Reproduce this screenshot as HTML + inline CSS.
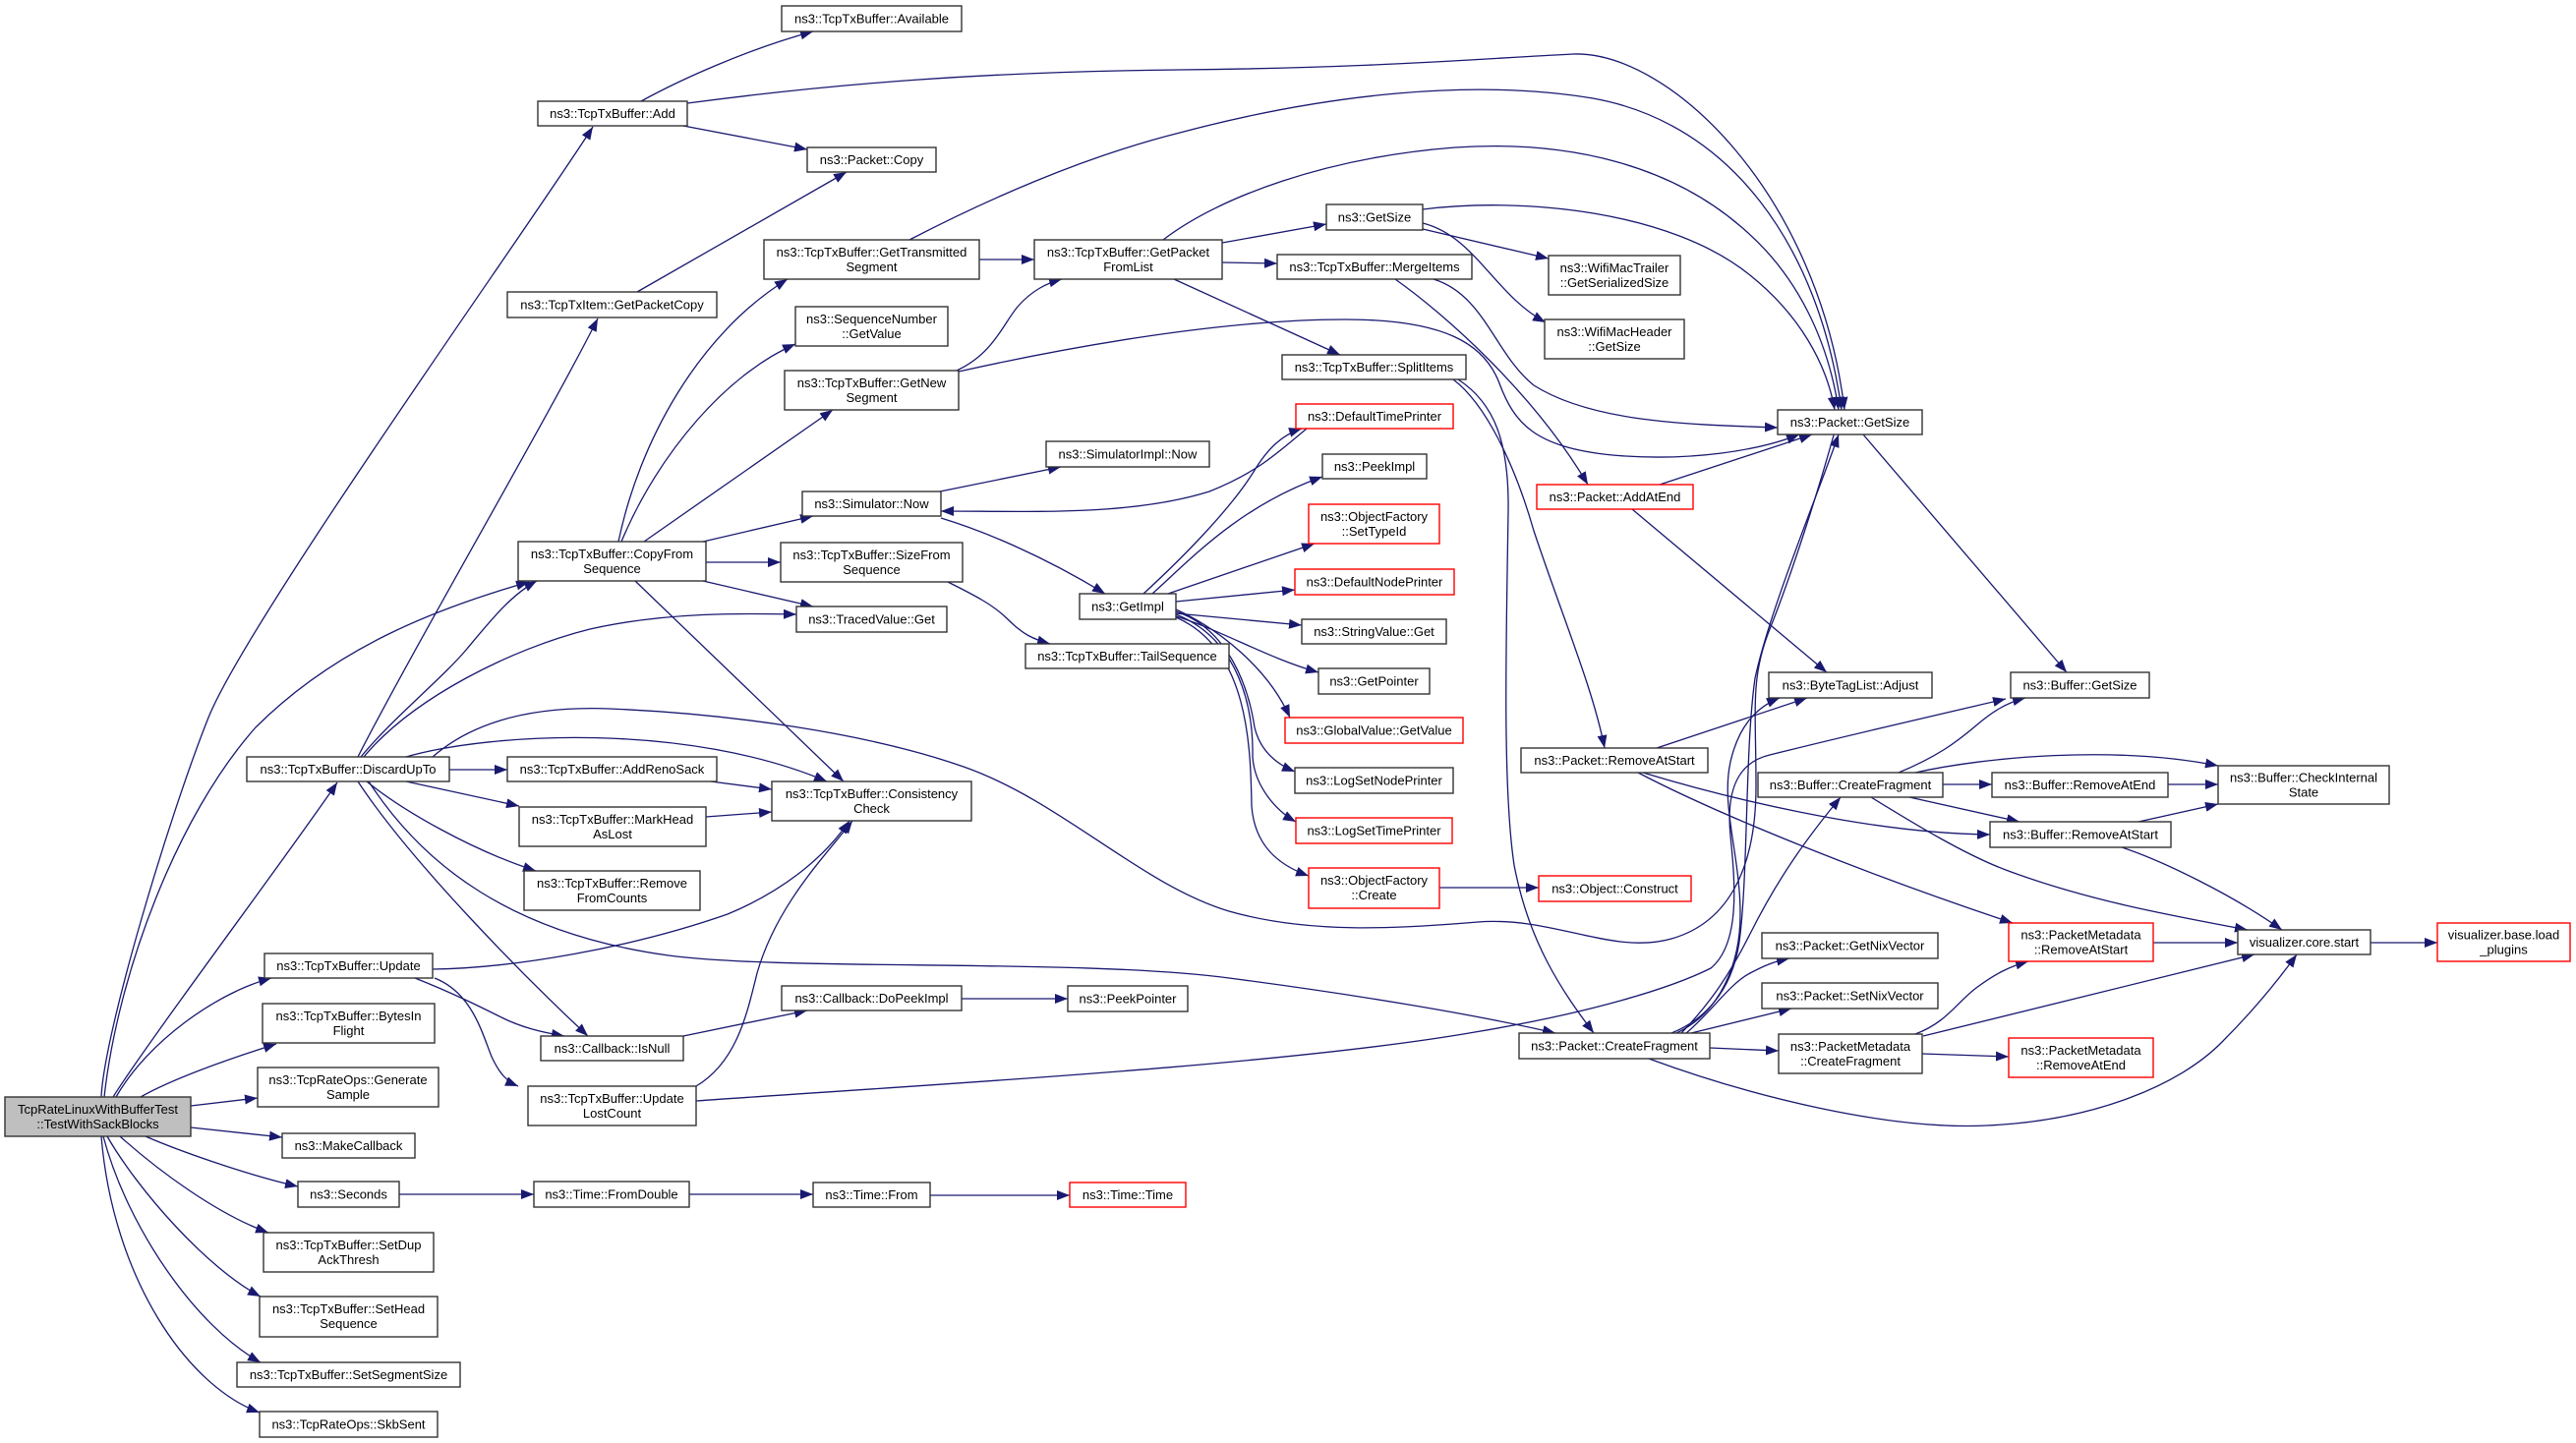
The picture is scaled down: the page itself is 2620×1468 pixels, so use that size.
<!DOCTYPE html>
<html><head><meta charset="utf-8"><style>
html,body{margin:0;padding:0;background:#fff;}
svg{display:block;}
text{font-family:"Liberation Sans",Arial,sans-serif;font-size:13px;text-anchor:middle;fill:#000;}
.n{fill:#fff;stroke:#333;stroke-width:1.4;}
.r{fill:#fff;stroke:#ff0000;stroke-width:1.4;}
.e{fill:none;stroke:#191970;stroke-width:1.3;marker-end:url(#a);}
</style></head><body>
<svg width="2620" height="1468" viewBox="0 0 2620 1468" xmlns="http://www.w3.org/2000/svg">
<defs><marker id="a" markerUnits="userSpaceOnUse" markerWidth="14" markerHeight="11" refX="13" refY="5" orient="auto"><path d="M0,0 L13,5 L0,10 z" fill="#191970"/></marker></defs>
<rect width="2620" height="1468" fill="#fff"/>
<g>
<path class="e" d="M103,1116 C106,1050 172,830 212,730 C252,630 543,224 603,129"/>
<path class="e" d="M106,1116 C120,990 180,830 260,740 C340,660 440,620 538,592"/>
<path class="e" d="M364,770 C420,660 560,420 608,324"/>
<path class="e" d="M115,1116 C150,1060 300,860 343,796"/>
<path class="e" d="M118,1116 C150,1060 220,1010 276,995"/>
<path class="e" d="M143,1116 C180,1095 240,1075 281,1062"/>
<path class="e" d="M194,1125 L262,1117"/>
<path class="e" d="M194,1147 L287,1157"/>
<path class="e" d="M148,1156 C180,1170 250,1195 303,1207"/>
<path class="e" d="M122,1156 C160,1190 220,1235 273,1254"/>
<path class="e" d="M109,1156 C140,1210 210,1290 265,1319"/>
<path class="e" d="M105,1156 C130,1250 200,1350 265,1386"/>
<path class="e" d="M103,1156 C115,1300 190,1410 264,1437"/>
<path class="e" d="M457,783 L516,783"/>
<path class="e" d="M413,795 L528,820"/>
<path class="e" d="M373,795 C410,825 480,865 545,886"/>
<path class="e" d="M364,795 C420,880 540,1000 598,1054"/>
<path class="e" d="M375,795 C430,880 520,950 680,972 C800,988 1100,975 1250,995 C1380,1012 1500,1032 1582,1051"/>
<path class="e" d="M413,770 C500,745 700,735 841,795"/>
<path class="e" d="M440,770 C480,735 540,718 620,721 C740,726 880,745 980,780 C1080,815 1160,900 1250,927 C1330,950 1420,945 1503,938 C1580,932 1640,972 1700,955 C1760,938 1786,880 1786,800 C1786,720 1780,690 1800,640 C1820,590 1850,500 1872,417"/>
<path class="e" d="M367,770 C400,730 450,690 475,660 C500,630 520,605 546,591"/>
<path class="e" d="M370,770 C420,710 520,660 600,640 C680,622 760,624 810,625"/>
<path class="e" d="M629,551 C650,450 710,340 801,284"/>
<path class="e" d="M632,551 C670,460 740,380 809,350"/>
<path class="e" d="M655,551 L847,417"/>
<path class="e" d="M715,551 L827,525"/>
<path class="e" d="M718,572 L794,572"/>
<path class="e" d="M715,591 L827,617"/>
<path class="e" d="M646,591 L858,795"/>
<path class="e" d="M652,103 C690,82 760,50 827,32"/>
<path class="e" d="M695,128 L821,152"/>
<path class="e" d="M699,105 C850,85 1000,73 1200,71 C1400,69 1500,60 1600,55 C1700,52 1850,200 1876,417"/>
<path class="e" d="M648,297 L861,175"/>
<path class="e" d="M996,264 L1052,264"/>
<path class="e" d="M925,244 C1000,205 1100,160 1200,135 C1350,95 1500,80 1620,100 C1760,125 1850,250 1873,417"/>
<path class="e" d="M1243,247 L1349,228"/>
<path class="e" d="M1243,267 L1299,268"/>
<path class="e" d="M1194,284 L1363,361"/>
<path class="e" d="M1183,244 C1240,200 1350,160 1480,150 C1600,142 1700,170 1770,230 C1830,280 1860,350 1870,417"/>
<path class="e" d="M1447,233 L1575,263"/>
<path class="e" d="M1447,227 C1500,240 1520,300 1572,328"/>
<path class="e" d="M1447,213 C1550,200 1700,215 1780,280 C1830,320 1858,370 1866,417"/>
<path class="e" d="M1419,284 C1470,320 1560,400 1615,493"/>
<path class="e" d="M1458,284 C1510,300 1520,360 1560,392 C1620,430 1720,432 1808,435"/>
<path class="e" d="M973,377 C1010,360 1020,330 1035,312 C1050,295 1065,288 1080,284"/>
<path class="e" d="M975,378 C1100,350 1250,325 1368,325 C1470,325 1510,350 1525,390 C1540,430 1560,455 1640,463 C1720,470 1790,458 1830,442"/>
<path class="e" d="M1478,386 C1510,410 1540,470 1560,540 C1590,630 1620,700 1632,761"/>
<path class="e" d="M1483,386 C1520,410 1535,450 1534,520 C1532,650 1528,800 1540,880 C1555,960 1590,1010 1621,1051"/>
<path class="e" d="M1163,604 C1200,570 1250,520 1275,480 C1290,455 1305,442 1324,436"/>
<path class="e" d="M1172,604 C1210,570 1260,515 1345,485"/>
<path class="e" d="M1188,604 L1337,553"/>
<path class="e" d="M1196,612 L1317,600"/>
<path class="e" d="M1196,624 L1324,636"/>
<path class="e" d="M1196,627 C1240,640 1290,670 1341,684"/>
<path class="e" d="M1196,620 C1240,640 1290,680 1312,730"/>
<path class="e" d="M1196,622 C1250,640 1270,700 1276,740 C1282,765 1300,778 1317,785"/>
<path class="e" d="M1196,625 C1260,650 1275,720 1274,770 C1276,800 1298,825 1318,836"/>
<path class="e" d="M1196,628 C1270,660 1272,760 1273,820 C1276,860 1300,880 1331,891"/>
<path class="e" d="M956,500 L1079,475"/>
<path class="e" d="M957,527 C1000,540 1060,565 1124,604"/>
<path class="e" d="M1329,436 C1300,460 1280,480 1230,500 C1150,525 1050,520 957,520"/>
<path class="e" d="M964,592 C990,605 1010,615 1025,630 C1040,645 1050,650 1068,655"/>
<path class="e" d="M1464,903 L1565,903"/>
<path class="e" d="M695,1054 L821,1028"/>
<path class="e" d="M978,1016 L1086,1016"/>
<path class="e" d="M406,1215 L543,1215"/>
<path class="e" d="M701,1215 L827,1215"/>
<path class="e" d="M946,1216 L1088,1216"/>
<path class="e" d="M440,986 C520,985 640,965 740,930 C800,905 840,870 864,835"/>
<path class="e" d="M422,995 C460,1010 490,1025 510,1035 C530,1045 550,1050 574,1054"/>
<path class="e" d="M442,995 C480,1010 490,1050 500,1075 C508,1092 515,1100 527,1105"/>
<path class="e" d="M708,1105 C750,1080 760,1030 770,990 C790,920 840,870 867,835"/>
<path class="e" d="M708,1120 C900,1106 1300,1085 1500,1050 C1620,1030 1700,1005 1740,985 C1770,960 1765,900 1760,850 C1755,800 1770,775 1800,768 C1880,748 1980,725 2040,711"/>
<path class="e" d="M1700,1051 C1740,1035 1765,1000 1770,950 C1778,880 1775,760 1785,690 C1800,620 1850,500 1870,442"/>
<path class="e" d="M1705,1051 C1750,1030 1770,980 1770,930 C1770,870 1750,820 1760,775 C1768,740 1785,720 1810,710"/>
<path class="e" d="M1710,1051 C1740,1020 1760,990 1780,950 C1810,890 1840,850 1872,811"/>
<path class="e" d="M1715,1051 C1740,1030 1760,1000 1780,990 C1795,982 1805,978 1820,975"/>
<path class="e" d="M1720,1051 L1822,1026"/>
<path class="e" d="M1739,1066 L1809,1069"/>
<path class="e" d="M1677,1077 C1780,1115 1920,1150 2021,1145 C2130,1140 2217,1104 2260,1060 C2290,1030 2315,1000 2336,971"/>
<path class="e" d="M1688,493 L1843,442"/>
<path class="e" d="M1660,518 L1858,684"/>
<path class="e" d="M1685,761 L1838,710"/>
<path class="e" d="M1671,786 C1750,810 1900,848 2024,849"/>
<path class="e" d="M1666,786 C1750,830 1900,890 2047,939"/>
<path class="e" d="M1895,442 L2102,684"/>
<path class="e" d="M1931,786 C1970,770 1990,755 2010,738 C2025,725 2040,715 2060,710"/>
<path class="e" d="M1948,786 C2020,770 2150,758 2256,779"/>
<path class="e" d="M1976,798 L2026,798"/>
<path class="e" d="M1942,811 L2054,836"/>
<path class="e" d="M1903,811 C1950,840 2000,870 2040,885 C2120,915 2200,930 2286,946"/>
<path class="e" d="M2205,798 L2256,798"/>
<path class="e" d="M2175,836 L2256,818"/>
<path class="e" d="M2158,862 C2200,876 2270,910 2321,946"/>
<path class="e" d="M2190,959 L2276,959"/>
<path class="e" d="M2411,959 L2479,959"/>
<path class="e" d="M1948,1052 C1980,1040 1990,1020 2010,1005 C2030,990 2045,983 2063,978"/>
<path class="e" d="M1956,1054 L2293,971"/>
<path class="e" d="M1955,1072 L2043,1075"/>
<path class="e" d="M723,795 L785,803"/>
<path class="e" d="M718,831 L785,826"/>
</g>
<g>
<rect x="5" y="1116" width="189" height="40" fill="#bfbfbf" stroke="#333" stroke-width="1.4"/>
<text x="99.5" y="1133">TcpRateLinuxWithBufferTest</text><text x="99.5" y="1148">::TestWithSackBlocks</text>
<rect class="n" x="547" y="103" width="152" height="25"/><text x="623" y="120">ns3::TcpTxBuffer::Add</text>
<rect class="n" x="795" y="6" width="183" height="26"/><text x="886.5" y="23.5">ns3::TcpTxBuffer::Available</text>
<rect class="n" x="821" y="150" width="131" height="25"/><text x="886.5" y="167">ns3::Packet::Copy</text>
<rect class="n" x="777" y="244" width="219" height="40"/><text x="886.5" y="261">ns3::TcpTxBuffer::GetTransmitted</text><text x="886.5" y="276">Segment</text>
<rect class="n" x="516" y="297" width="213" height="26"/><text x="622.5" y="314.5">ns3::TcpTxItem::GetPacketCopy</text>
<rect class="n" x="809" y="312" width="155" height="40"/><text x="886.5" y="329">ns3::SequenceNumber</text><text x="886.5" y="344">::GetValue</text>
<rect class="n" x="798" y="377" width="177" height="40"/><text x="886.5" y="394">ns3::TcpTxBuffer::GetNew</text><text x="886.5" y="409">Segment</text>
<rect class="n" x="816" y="500" width="141" height="25"/><text x="886.5" y="517">ns3::Simulator::Now</text>
<rect class="n" x="527" y="551" width="191" height="40"/><text x="622.5" y="568">ns3::TcpTxBuffer::CopyFrom</text><text x="622.5" y="583">Sequence</text>
<rect class="n" x="794" y="552" width="185" height="40"/><text x="886.5" y="569">ns3::TcpTxBuffer::SizeFrom</text><text x="886.5" y="584">Sequence</text>
<rect class="n" x="810" y="617" width="153" height="26"/><text x="886.5" y="634.5">ns3::TracedValue::Get</text>
<rect class="n" x="251" y="770" width="206" height="25"/><text x="354" y="787">ns3::TcpTxBuffer::DiscardUpTo</text>
<rect class="n" x="516" y="770" width="213" height="25"/><text x="622.5" y="787">ns3::TcpTxBuffer::AddRenoSack</text>
<rect class="n" x="785" y="795" width="203" height="40"/><text x="886.5" y="812">ns3::TcpTxBuffer::Consistency</text><text x="886.5" y="827">Check</text>
<rect class="n" x="528" y="821" width="190" height="40"/><text x="623" y="838">ns3::TcpTxBuffer::MarkHead</text><text x="623" y="853">AsLost</text>
<rect class="n" x="533" y="886" width="179" height="40"/><text x="622.5" y="903">ns3::TcpTxBuffer::Remove</text><text x="622.5" y="918">FromCounts</text>
<rect class="n" x="269" y="970" width="171" height="25"/><text x="354.5" y="987">ns3::TcpTxBuffer::Update</text>
<rect class="n" x="267" y="1021" width="175" height="40"/><text x="354.5" y="1038">ns3::TcpTxBuffer::BytesIn</text><text x="354.5" y="1053">Flight</text>
<rect class="n" x="262" y="1086" width="184" height="40"/><text x="354" y="1103">ns3::TcpRateOps::Generate</text><text x="354" y="1118">Sample</text>
<rect class="n" x="287" y="1153" width="135" height="25"/><text x="354.5" y="1170">ns3::MakeCallback</text>
<rect class="n" x="303" y="1202" width="103" height="26"/><text x="354.5" y="1219.5">ns3::Seconds</text>
<rect class="n" x="268" y="1254" width="173" height="40"/><text x="354.5" y="1271">ns3::TcpTxBuffer::SetDup</text><text x="354.5" y="1286">AckThresh</text>
<rect class="n" x="264" y="1319" width="181" height="41"/><text x="354.5" y="1336">ns3::TcpTxBuffer::SetHead</text><text x="354.5" y="1351">Sequence</text>
<rect class="n" x="241" y="1386" width="227" height="25"/><text x="354.5" y="1403">ns3::TcpTxBuffer::SetSegmentSize</text>
<rect class="n" x="264" y="1436" width="181" height="26"/><text x="354.5" y="1453.5">ns3::TcpRateOps::SkbSent</text>
<rect class="n" x="550" y="1054" width="145" height="25"/><text x="622.5" y="1071">ns3::Callback::IsNull</text>
<rect class="n" x="795" y="1003" width="183" height="25"/><text x="886.5" y="1020">ns3::Callback::DoPeekImpl</text>
<rect class="n" x="537" y="1105" width="171" height="40"/><text x="622.5" y="1122">ns3::TcpTxBuffer::Update</text><text x="622.5" y="1137">LostCount</text>
<rect class="n" x="543" y="1202" width="158" height="26"/><text x="622" y="1219.5">ns3::Time::FromDouble</text>
<rect class="n" x="827" y="1203" width="119" height="25"/><text x="886.5" y="1220">ns3::Time::From</text>
<rect class="n" x="1052" y="244" width="191" height="40"/><text x="1147.5" y="261">ns3::TcpTxBuffer::GetPacket</text><text x="1147.5" y="276">FromList</text>
<rect class="n" x="1349" y="208" width="98" height="26"/><text x="1398" y="225.5">ns3::GetSize</text>
<rect class="n" x="1299" y="259" width="198" height="25"/><text x="1398" y="276">ns3::TcpTxBuffer::MergeItems</text>
<rect class="n" x="1575" y="260" width="134" height="40"/><text x="1642" y="277">ns3::WifiMacTrailer</text><text x="1642" y="292">::GetSerializedSize</text>
<rect class="n" x="1571" y="325" width="142" height="40"/><text x="1642" y="342">ns3::WifiMacHeader</text><text x="1642" y="357">::GetSize</text>
<rect class="n" x="1304" y="361" width="187" height="25"/><text x="1397.5" y="378">ns3::TcpTxBuffer::SplitItems</text>
<rect class="r" x="1318" y="411" width="160" height="25"/><text x="1398" y="428">ns3::DefaultTimePrinter</text>
<rect class="n" x="1064" y="449" width="166" height="26"/><text x="1147" y="466.5">ns3::SimulatorImpl::Now</text>
<rect class="n" x="1345" y="462" width="106" height="25"/><text x="1398" y="479">ns3::PeekImpl</text>
<rect class="r" x="1331" y="513" width="133" height="40"/><text x="1397.5" y="530">ns3::ObjectFactory</text><text x="1397.5" y="545">::SetTypeId</text>
<rect class="r" x="1563" y="493" width="159" height="25"/><text x="1642.5" y="510">ns3::Packet::AddAtEnd</text>
<rect class="r" x="1317" y="579" width="162" height="26"/><text x="1398" y="596.5">ns3::DefaultNodePrinter</text>
<rect class="n" x="1098" y="604" width="98" height="26"/><text x="1147" y="621.5">ns3::GetImpl</text>
<rect class="n" x="1324" y="630" width="147" height="25"/><text x="1397.5" y="647">ns3::StringValue::Get</text>
<rect class="n" x="1043" y="655" width="207" height="25"/><text x="1146.5" y="672">ns3::TcpTxBuffer::TailSequence</text>
<rect class="n" x="1341" y="680" width="113" height="26"/><text x="1397.5" y="697.5">ns3::GetPointer</text>
<rect class="r" x="1307" y="730" width="181" height="26"/><text x="1397.5" y="747.5">ns3::GlobalValue::GetValue</text>
<rect class="n" x="1317" y="781" width="161" height="26"/><text x="1397.5" y="798.5">ns3::LogSetNodePrinter</text>
<rect class="r" x="1318" y="832" width="159" height="26"/><text x="1397.5" y="849.5">ns3::LogSetTimePrinter</text>
<rect class="r" x="1331" y="883" width="133" height="41"/><text x="1397.5" y="900">ns3::ObjectFactory</text><text x="1397.5" y="915">::Create</text>
<rect class="r" x="1565" y="891" width="155" height="26"/><text x="1642.5" y="908.5">ns3::Object::Construct</text>
<rect class="n" x="1547" y="761" width="190" height="25"/><text x="1642" y="778">ns3::Packet::RemoveAtStart</text>
<rect class="n" x="1086" y="1003" width="122" height="26"/><text x="1147" y="1020.5">ns3::PeekPointer</text>
<rect class="n" x="1545" y="1051" width="194" height="26"/><text x="1642" y="1068.5">ns3::Packet::CreateFragment</text>
<rect class="r" x="1088" y="1203" width="118" height="25"/><text x="1147" y="1220">ns3::Time::Time</text>
<rect class="n" x="1808" y="417" width="147" height="25"/><text x="1881.5" y="434">ns3::Packet::GetSize</text>
<rect class="n" x="1799" y="684" width="166" height="26"/><text x="1882" y="701.5">ns3::ByteTagList::Adjust</text>
<rect class="n" x="2045" y="684" width="141" height="26"/><text x="2115.5" y="701.5">ns3::Buffer::GetSize</text>
<rect class="n" x="1788" y="786" width="188" height="25"/><text x="1882" y="803">ns3::Buffer::CreateFragment</text>
<rect class="n" x="2026" y="786" width="179" height="25"/><text x="2115.5" y="803">ns3::Buffer::RemoveAtEnd</text>
<rect class="n" x="2256" y="779" width="174" height="39"/><text x="2343" y="795.5">ns3::Buffer::CheckInternal</text><text x="2343" y="810.5">State</text>
<rect class="n" x="2024" y="836" width="184" height="26"/><text x="2116" y="853.5">ns3::Buffer::RemoveAtStart</text>
<rect class="r" x="2043" y="939" width="147" height="39"/><text x="2116.5" y="955.5">ns3::PacketMetadata</text><text x="2116.5" y="970.5">::RemoveAtStart</text>
<rect class="n" x="2276" y="946" width="135" height="25"/><text x="2343.5" y="963">visualizer.core.start</text>
<rect class="r" x="2479" y="939" width="135" height="39"/><text x="2546.5" y="955.5">visualizer.base.load</text><text x="2546.5" y="970.5">_plugins</text>
<rect class="n" x="1792" y="949" width="179" height="26"/><text x="1881.5" y="966.5">ns3::Packet::GetNixVector</text>
<rect class="n" x="1792" y="1000" width="179" height="26"/><text x="1881.5" y="1017.5">ns3::Packet::SetNixVector</text>
<rect class="n" x="1809" y="1052" width="146" height="40"/><text x="1882" y="1069">ns3::PacketMetadata</text><text x="1882" y="1084">::CreateFragment</text>
<rect class="r" x="2043" y="1056" width="147" height="40"/><text x="2116.5" y="1073">ns3::PacketMetadata</text><text x="2116.5" y="1088">::RemoveAtEnd</text>
</g>
</svg>
</body></html>
